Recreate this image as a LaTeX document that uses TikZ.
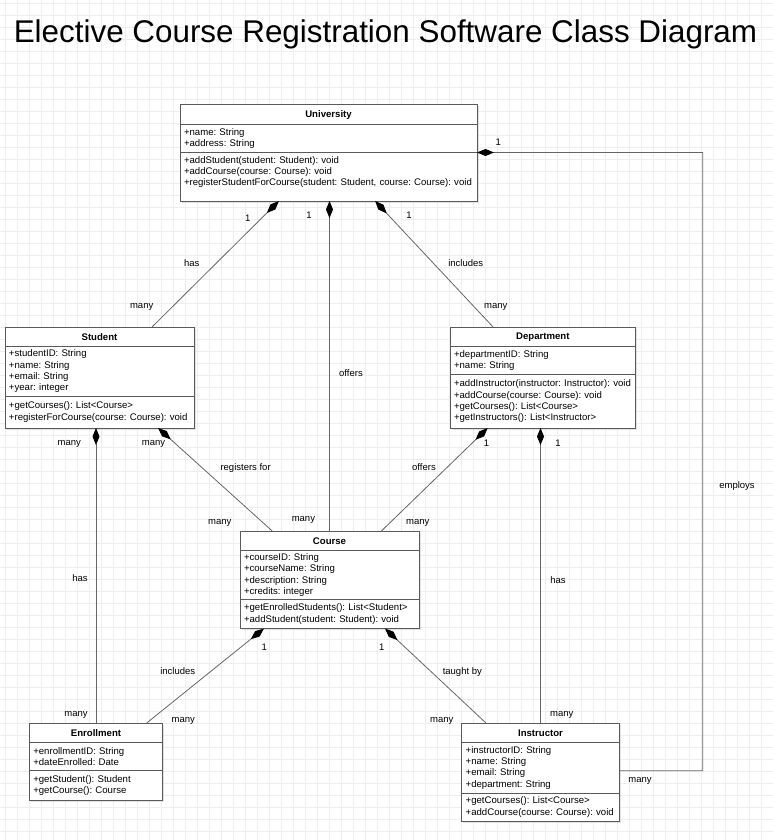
\documentclass[tikz,border=0pt]{standalone}
\usepackage{fontspec}
\setmainfont{Liberation Sans}
\frenchspacing
\usetikzlibrary{arrows.meta,positioning,calc,shadows}
\definecolor{boxgray}{HTML}{5A5A5A}
\definecolor{linegray}{HTML}{666666}
\definecolor{gridgray}{HTML}{EEEEEE}

\begin{document}
\begin{tikzpicture}[x=1pt,y=-1pt,semithick]
\tikzstyle{classhead}=[draw=boxgray,fill=white,line width=1pt,outer sep=0pt,inner sep=0pt,minimum height=19.5pt,anchor=north west,font=\fontsize{9.6}{11.2}\selectfont\frenchspacing\bfseries,drop shadow={shadow xshift=1.5pt,shadow yshift=-1.5pt,fill=black!22}]
  \tikzstyle{classpart}=[draw=boxgray,fill=white,line width=1pt,outer sep=0pt,inner xsep=4pt,inner ysep=0pt,align=left,font=\fontsize{9.6}{11.2}\selectfont\frenchspacing,drop shadow={shadow xshift=1.5pt,shadow yshift=-1.5pt,fill=black!22}]
  \tikzstyle{compose}=[draw=linegray,line width=0.8pt,{Diamond[length=17pt,width=7pt,black]}-]
  \tikzstyle{composeto}=[draw=linegray,line width=0.8pt,-{Diamond[length=17pt,width=7pt,black]}]
  \tikzstyle{lbl}=[font=\fontsize{9.5}{11}\selectfont\frenchspacing,inner sep=0pt,anchor=base]
%
% background and grid
\useasboundingbox (0,0) rectangle (773,840);
\fill[white] (0,0) rectangle (773,840);
\begin{scope}
  \clip (0,0) rectangle (773,840);
  \draw[gridgray,line width=1pt,xshift=5pt,yshift=-3.7pt] (-24,-24) grid[step=12pt] (790,860);
\end{scope}
\node[font=\fontsize{31.4}{36}\selectfont,inner sep=0pt,anchor=base] (title) at (385.5,42.7) {Elective Course Registration Software Class Diagram};
%
% classes
\node[classhead,minimum width=297pt] (univ) at (180,105) {University};
  \node[classpart,text width=289pt,minimum height=28pt,below=0pt of univ] (univattr) {+name: String\\+address: String};
  \node[classpart,text width=289pt,minimum height=48.5pt,below=0pt of univattr] (univops) {+addStudent(student: Student): void\\+addCourse(course: Course): void\\+registerStudentForCourse(student: Student, course: Course): void\\\mbox{}};
\node[classhead,minimum width=189pt] (stud) at (5,327) {Student};
  \node[classpart,text width=181pt,minimum height=49.5pt,below=0pt of stud] (studattr) {+studentID: String\\+name: String\\+email: String\\+year: integer};
  \node[classpart,text width=181pt,minimum height=32pt,below=0pt of studattr] (studops) {+getCourses(): List<Course>\\+registerForCourse(course: Course): void};
\node[classhead,minimum width=185.7pt] (dept) at (450,327) {Department};
  \node[classpart,text width=177.7pt,minimum height=28pt,below=0pt of dept] (deptattr) {+departmentID: String\\+name: String};
  \node[classpart,text width=177.7pt,minimum height=53.5pt,below=0pt of deptattr] (deptops) {+addInstructor(instructor: Instructor): void\\+addCourse(course: Course): void\\+getCourses(): List<Course>\\+getInstructors(): List<Instructor>};
\node[classhead,minimum width=179pt] (course) at (240,531) {Course};
  \node[classpart,text width=171pt,minimum height=49pt,below=0pt of course] (courseattr) {+courseID: String\\+courseName: String\\+description: String\\+credits: integer};
  \node[classpart,text width=171pt,minimum height=29pt,below=0pt of courseattr] (courseops) {+getEnrolledStudents(): List<Student>\\+addStudent(student: Student): void};
\node[classhead,minimum width=133.4pt] (enroll) at (29.3,723) {Enrollment};
  \node[classpart,text width=125.4pt,minimum height=27.5pt,below=0pt of enroll] (enrollattr) {+enrollmentID: String\\+dateEnrolled: Date};
  \node[classpart,text width=125.4pt,minimum height=30.5pt,below=0pt of enrollattr] (enrollops) {+getStudent(): Student\\+getCourse(): Course};
\node[classhead,minimum width=157.6pt] (inst) at (461.7,723) {Instructor};
  \node[classpart,text width=149.6pt,minimum height=50.5pt,below=0pt of inst] (instattr) {+instructorID: String\\+name: String\\+email: String\\+department: String};
  \node[classpart,text width=149.6pt,minimum height=28pt,below=0pt of instattr] (instops) {+getCourses(): List<Course>\\+addCourse(course: Course): void};
%
% associations
\path ($(univops.south west)!0.333!(univops.south east)$) edge[compose] ($(stud.north west)!0.778!(stud.north east)$);
  \path (course.north |- univops.south) edge[compose] (course.north);
  \path ($(univops.south west)!0.657!(univops.south east)$) edge[compose] ($(dept.north west)!0.232!(dept.north east)$);
  \path (enroll.north |- studops.south) edge[compose] (enroll.north);
  \path ($(studops.south west)!0.81!(studops.south east)$) edge[compose] ($(course.north west)!0.18!(course.north east)$);
  \path ($(deptops.south west)!0.203!(deptops.south east)$) edge[compose] ($(course.north west)!0.79!(course.north east)$);
  \path (inst.north |- deptops.south) edge[compose] (inst.north);
  \path ($(courseops.south west)!0.134!(courseops.south east)$) edge[compose] ($(enroll.north west)!0.88!(enroll.north east)$);
  \path ($(courseops.south west)!0.81!(courseops.south east)$) edge[compose] ($(inst.north west)!0.154!(inst.north east)$);
\coordinate (empbend) at (702.7,770.7);
  \draw[composeto] ($(instattr.east)+(0,3)$) -- (empbend) |- (univattr.south east);
%
% multiplicities and roles
\node[lbl] (lab1) at (498.3,146) {1};
  \node[lbl] (lab2) at (640,782.5) {many};
  \node[lbl] (lab3) at (737,488) {employs};
  \node[lbl] (lab4) at (247.7,221.5) {1};
  \node[lbl] (lab5) at (191.7,266) {has};
  \node[lbl] (lab6) at (141.7,308) {many};
  \node[lbl] (lab7) at (309,218) {1};
  \node[lbl] (lab8) at (351,376) {offers};
  \node[lbl] (lab9) at (303.4,521.5) {many};
  \node[lbl] (lab10) at (409,218) {1};
  \node[lbl] (lab11) at (465.7,266) {includes};
  \node[lbl] (lab12) at (495.7,308) {many};
  \node[lbl] (lab13) at (69.3,445.5) {many};
  \node[lbl] (lab14) at (153.6,445.5) {many};
  \node[lbl] (lab15) at (245.6,470.5) {registers for};
  \node[lbl] (lab16) at (219.8,524) {many};
  \node[lbl] (lab17) at (424,470.5) {offers};
  \node[lbl] (lab18) at (417.7,524) {many};
  \node[lbl] (lab19) at (486.6,446) {1};
  \node[lbl] (lab20) at (558,446) {1};
  \node[lbl] (lab21) at (80,581) {has};
  \node[lbl] (lab22) at (558,583) {has};
  \node[lbl] (lab23) at (76,716.5) {many};
  \node[lbl] (lab24) at (183.3,722) {many};
  \node[lbl] (lab25) at (264.3,650.5) {1};
  \node[lbl] (lab26) at (177.7,674) {includes};
  \node[lbl] (lab27) at (381.7,650.5) {1};
  \node[lbl] (lab28) at (462.3,674) {taught by};
  \node[lbl] (lab29) at (441.7,722.5) {many};
  \node[lbl] (lab30) at (561.7,716.5) {many};
\end{tikzpicture}
\end{document}
